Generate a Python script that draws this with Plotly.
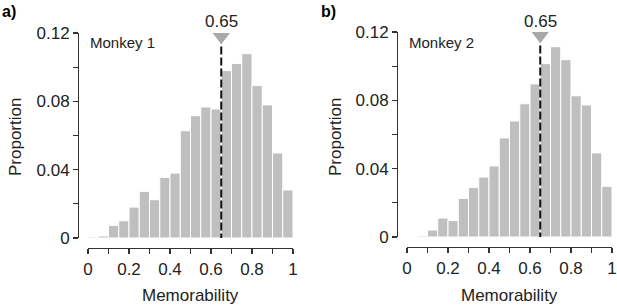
import plotly.graph_objects as go

W, H = 617, 305

bin_centers = [0.025, 0.075, 0.125, 0.175, 0.225, 0.275, 0.325, 0.375, 0.425, 0.475,
               0.525, 0.575, 0.625, 0.675, 0.725, 0.775, 0.825, 0.875, 0.925, 0.975]
monkey1 = [0.0006, 0.0012, 0.0074, 0.0101, 0.0181, 0.0273, 0.0224, 0.0355, 0.0380, 0.0628,
           0.0716, 0.0767, 0.0755, 0.0980, 0.1022, 0.1079, 0.0892, 0.0779, 0.0498, 0.0281]
monkey2 = [0.0, 0.0006, 0.0041, 0.0111, 0.0096, 0.0226, 0.0289, 0.0351, 0.0416, 0.0580,
           0.0679, 0.0780, 0.0896, 0.1015, 0.1114, 0.1038, 0.0827, 0.0773, 0.0492, 0.0297]
threshold = 0.65
y_tickvals = [0, 0.02, 0.04, 0.06, 0.08, 0.10, 0.12]
y_ticktext = ["0", "", "0.04", "", "0.08", "", "0.12"]
x_tickvals = [0, 0.1, 0.2, 0.3, 0.4, 0.5, 0.6, 0.7, 0.8, 0.9, 1.0]
x_ticktext = ["0", "", "0.2", "", "0.4", "", "0.6", "", "0.8", "", "1"]

FONT = "Liberation Sans, Arial, Helvetica, sans-serif"
TXT = "#222222"
BAR = "#bfbfbf"
AX = "#333333"

def px_x(p):
    return p / W

def px_y(p):
    return 1 - p / H

panels = [
    dict(data=monkey1, name="Monkey 1", label="a)", x0=88, x1=293, yax_px=78,
         y0=238, y1=33, xax_px=248, label_x=0, ytitle_x=15),
    dict(data=monkey2, name="Monkey 2", label="b)", x0=407, x1=612, yax_px=397,
         y0=237, y1=32, xax_px=247, label_x=319, ytitle_x=335),
]

fig = go.Figure()
layout = dict(template="none", width=W, height=H, margin=dict(l=0, r=0, t=0, b=0, autoexpand=False),
              plot_bgcolor="white", paper_bgcolor="white", showlegend=False,
              font=dict(family=FONT, color=TXT, size=17), bargap=0)
annotations = []

for i, p in enumerate(panels):
    n = "" if i == 0 else str(i + 1)
    xa, ya = "x" + n, "y" + n
    fig.add_trace(go.Bar(x=bin_centers, y=p["data"], width=0.05, xaxis=xa, yaxis=ya,
                         marker=dict(color=BAR, line=dict(color="white", width=1))))
    fig.add_trace(go.Scatter(x=[threshold, threshold], y=[-0.002, 0.114], mode="lines",
                             xaxis=xa, yaxis=ya, cliponaxis=False,
                             line=dict(color="#111111", width=2, dash="8px,3px")))
    fig.add_trace(go.Scatter(x=[threshold], y=[0.1178], mode="markers", xaxis=xa, yaxis=ya,
                             cliponaxis=False,
                             marker=dict(symbol="triangle-down", size=15, color="#a9a9a9",
                                         line=dict(width=0))))
    dom_x = [px_x(p["x0"]), px_x(p["x1"])]
    dom_y = [px_y(p["y0"]), px_y(p["y1"])]
    layout["xaxis" + n] = dict(domain=dom_x, range=[0, 1], anchor="free",
                               position=px_y(p["xax_px"]), tickvals=x_tickvals,
                               ticktext=x_ticktext, ticks="outside", ticklen=5,
                               tickwidth=1.2, tickcolor=AX, showline=True, linecolor=AX,
                               linewidth=1.2, showgrid=False, zeroline=False, automargin=False,
                               tickfont=dict(size=17, color=TXT), fixedrange=True)
    layout["yaxis" + n] = dict(domain=dom_y, range=[0, 0.12], anchor="free",
                               position=px_x(p["yax_px"]), tickvals=y_tickvals,
                               ticktext=y_ticktext, ticks="outside", ticklen=5,
                               tickwidth=1.2, tickcolor=AX, showline=True, linecolor=AX,
                               linewidth=1.2, showgrid=False, zeroline=False, automargin=False,
                               tickfont=dict(size=17, color=TXT), fixedrange=True)
    annotations += [
        dict(text=p["name"], x=dom_x[0], y=px_y(42), xref="paper", yref="paper",
             xanchor="left", yanchor="middle", showarrow=False, font=dict(size=15)),
        dict(text="0.65", x=threshold, xref=xa, y=px_y(21), yref="paper",
             xanchor="center", yanchor="middle", showarrow=False, font=dict(size=17)),
        dict(text="<b>" + p["label"] + "</b>", x=px_x(p["label_x"]), y=px_y(12),
             xref="paper", yref="paper", xanchor="left", yanchor="middle",
             showarrow=False, font=dict(size=16, color="#000000")),
        dict(text="Memorability", x=(dom_x[0] + dom_x[1]) / 2, y=px_y(295), xref="paper",
             yref="paper", xanchor="center", yanchor="middle", showarrow=False,
             font=dict(size=17)),
        dict(text="Proportion", x=px_x(p["ytitle_x"]), y=px_y(137), xref="paper",
             yref="paper", xanchor="center", yanchor="middle", textangle=-90,
             showarrow=False, font=dict(size=17)),
    ]

layout["annotations"] = annotations
fig.update_layout(**layout)
fig.write_html("out.html", config={"displayModeBar": False, "staticPlot": True},
               post_script="document.body.style.margin='0';document.body.style.overflow='hidden';")
